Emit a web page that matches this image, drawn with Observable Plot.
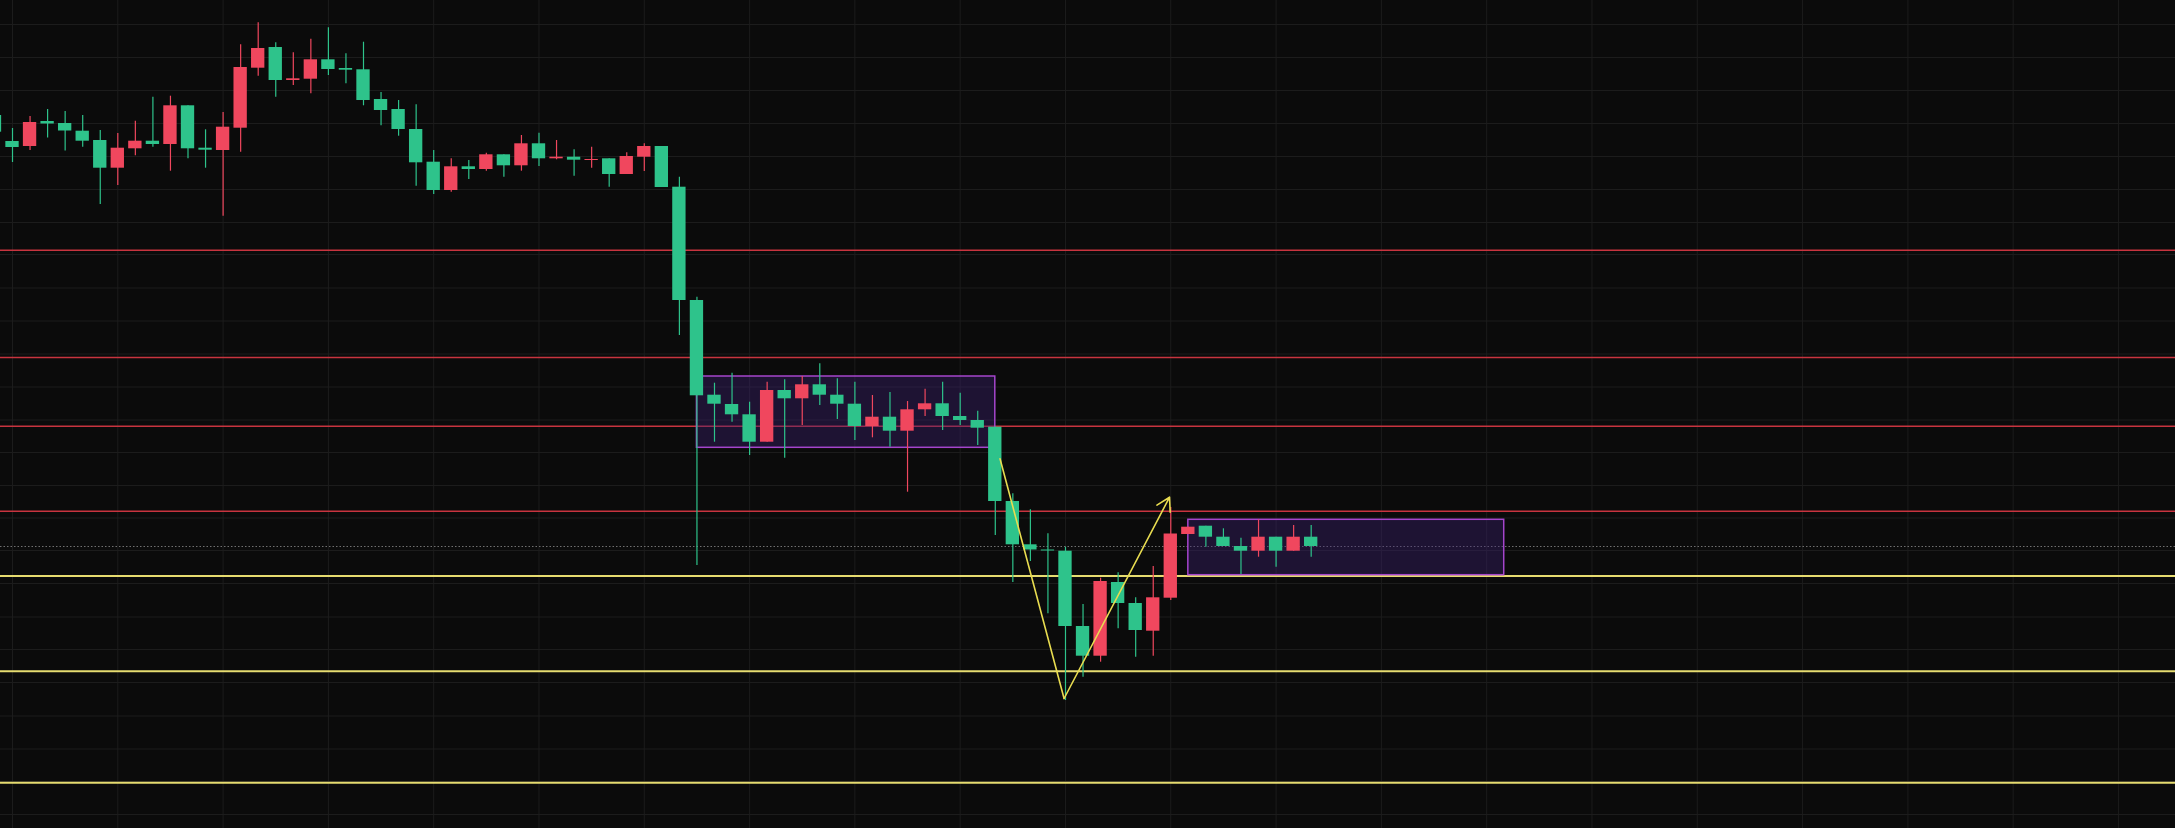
<!DOCTYPE html>
<html><head><meta charset="utf-8">
<script src="https://cdn.jsdelivr.net/npm/d3@7"></script>
<script src="https://cdn.jsdelivr.net/npm/@observablehq/plot@0.6"></script>
<style>html,body{margin:0;padding:0;background:#0b0b0b;overflow:hidden}</style>
</head><body><div id="chart"></div>
<script>
// Candle index of the first entry (partially cut at the left edge)
const firstIndex = -1;
const opens  = [885,859,854,879,877,869.3,860,832.3,851.7,859.3,856,894.7,852.3,850,872.3,932.3,953,920,921.3,940.7,932,930.7,901,891,871,838.3,810,833.7,831,845.7,834.7,856.7,841.7,843.3,840,841.7,826,843.3,854,813.3,700,605.3,596,585.7,558.3,610,601.7,615.7,605.3,596.3,574,583.3,569.3,590.7,596.7,584,580,573.3,499,455.7,450.5,449.3,374,344.3,418,397,369.3,402.3,466,474.3,463.3,454,449.3,463.3,449.3,463.3];
const highs  = [888,872,884,891,889,885,870,867,879.3,903.3,904.3,894.7,870.7,888,955.7,977.7,957.7,947.7,961.3,972.7,946.7,958.3,908,900,895.7,850,841.7,840,847.3,845.7,865,867.3,860,850.7,853.3,841.7,847.7,856.7,854,823.3,703.3,617.3,627.3,598.3,618.3,620.7,624,636.7,621.7,618.3,605,608,599,611.3,618.3,607.3,589.3,573.3,506.7,490.7,466.7,453.3,396,422.3,427.7,402.7,434,493,473.3,474.3,471.7,462.3,480.7,463.3,475,475];
const lows   = [860,838,850,862.5,849.5,853.3,796,815,844.7,853.3,829.3,841.7,832.3,784.3,848.3,924.3,903.3,915,906.7,925,916.7,894.7,874.7,864.3,814.3,806,808.3,821,829.3,823.3,829.3,834,840.7,824.3,832.3,813.3,826,829,813,665,435,558.3,578.3,545,558.3,542.3,575,595,581,560,562.7,553.3,508.3,584,570,575,555,465,418,439,386.7,300,323.3,338.3,371.7,343.3,344.3,400,466,453.3,454,426,443.3,433.3,449.3,443.3];
const closes = [868.3,853,878,876.5,869.5,859.3,832.3,852.3,859.3,856,894.7,851.7,850.3,873.3,933,952,920,921.7,940.7,931,930.3,900,890,871,837.7,810,833.7,831,845.7,834.7,856.7,841.7,843.3,840.3,841,826,844,854,813,700,604.7,596.3,585.7,558.3,610,601.7,615.7,605.3,596.3,574,583.3,569.3,590.7,596.7,584,580,572.3,499,455.7,450.5,449.5,374,344.3,419,397,370,402.7,466.5,473.3,463.3,454,449.3,463.3,449.3,463.3,454];

// Horizontal levels
const redLevels = [750.3, 643, 574.3, 489.3];
const yellowLevels = [424.5, 329.2, 217.7];
const lastPrice = [454];

// Consolidation boxes (candle index / price)
const boxStart = [39, 67];
const boxEnd   = [56, 85];
const boxLow   = [552.7, 425.3];
const boxHigh  = [624, 480.7];

// Hand-drawn swing path (candle index / price)
const swingX = [56.27, 59.92, 65.93];
const swingY = [541.7, 302, 503.3];

// Gridlines
const gridX = [0,6,12,18,24,30,36,42,48,54,60,66,72,78,84,90,96,102,108,114,120];
const gridY = [976,943,910,877,844,811,778,746,712.5,679.5,646.5,613.5,580.5,548,515,482.5,450,417,383.5,351,318,284.5,251.5,219,186];

const UP = "#f0475e", DOWN = "#2ec38b";
const candles = opens.map((o, i) => ({i: i + firstIndex, o, h: highs[i], l: lows[i], c: closes[i]}));
const boxes = boxStart.map((s, i) => ({x1: s, x2: boxEnd[i], y1: boxLow[i], y2: boxHigh[i]}));
const swing = swingX.map((x, i) => ({x, y: swingY[i]}));
const color = d => d.c >= d.o ? UP : DOWN;
const half = 0.38;

const chart = Plot.plot({
  width: 2175, height: 828,
  margin: 0,
  style: {background: "#0b0b0b"},
  x: {type: "linear", domain: [-0.684, 123.25], axis: null},
  y: {domain: [172, 1000], axis: null},
  marks: [
    Plot.ruleX(gridX, {stroke: "#1c1c1c", strokeWidth: 1}),
    Plot.ruleY(gridY, {stroke: "#1c1c1c", strokeWidth: 1}),
    Plot.ruleY(redLevels, {stroke: "#c8343f", strokeWidth: 1.6}),
    Plot.ruleY(yellowLevels, {stroke: "#e6dc70", strokeWidth: 2}),
    Plot.ruleY(lastPrice, {stroke: "#707070", strokeWidth: 1, strokeDasharray: "1.5,2"}),
    Plot.rect(boxes, {x1: "x1", x2: "x2", y1: "y1", y2: "y2", fill: "#3b2070", fillOpacity: 0.4, stroke: "#a545cc", strokeWidth: 1.5}),
    Plot.ruleX(candles, {x: "i", y1: "l", y2: "h", stroke: color, strokeWidth: 1.2}),
    Plot.rect(candles, {x1: d => d.i - half, x2: d => d.i + half, y1: "o", y2: "c", fill: color}),
    Plot.line(swing.slice(0, 2), {x: "x", y: "y", stroke: "#e8dc50", strokeWidth: 1.6}),
    Plot.arrow([{a: swing[1], b: swing[2]}], {x1: d => d.a.x, y1: d => d.a.y, x2: d => d.b.x, y2: d => d.b.y, stroke: "#e8dc50", strokeWidth: 1.6, headLength: 14, bend: 0})
  ]
});
document.getElementById("chart").appendChild(chart);
</script>
</body></html>
